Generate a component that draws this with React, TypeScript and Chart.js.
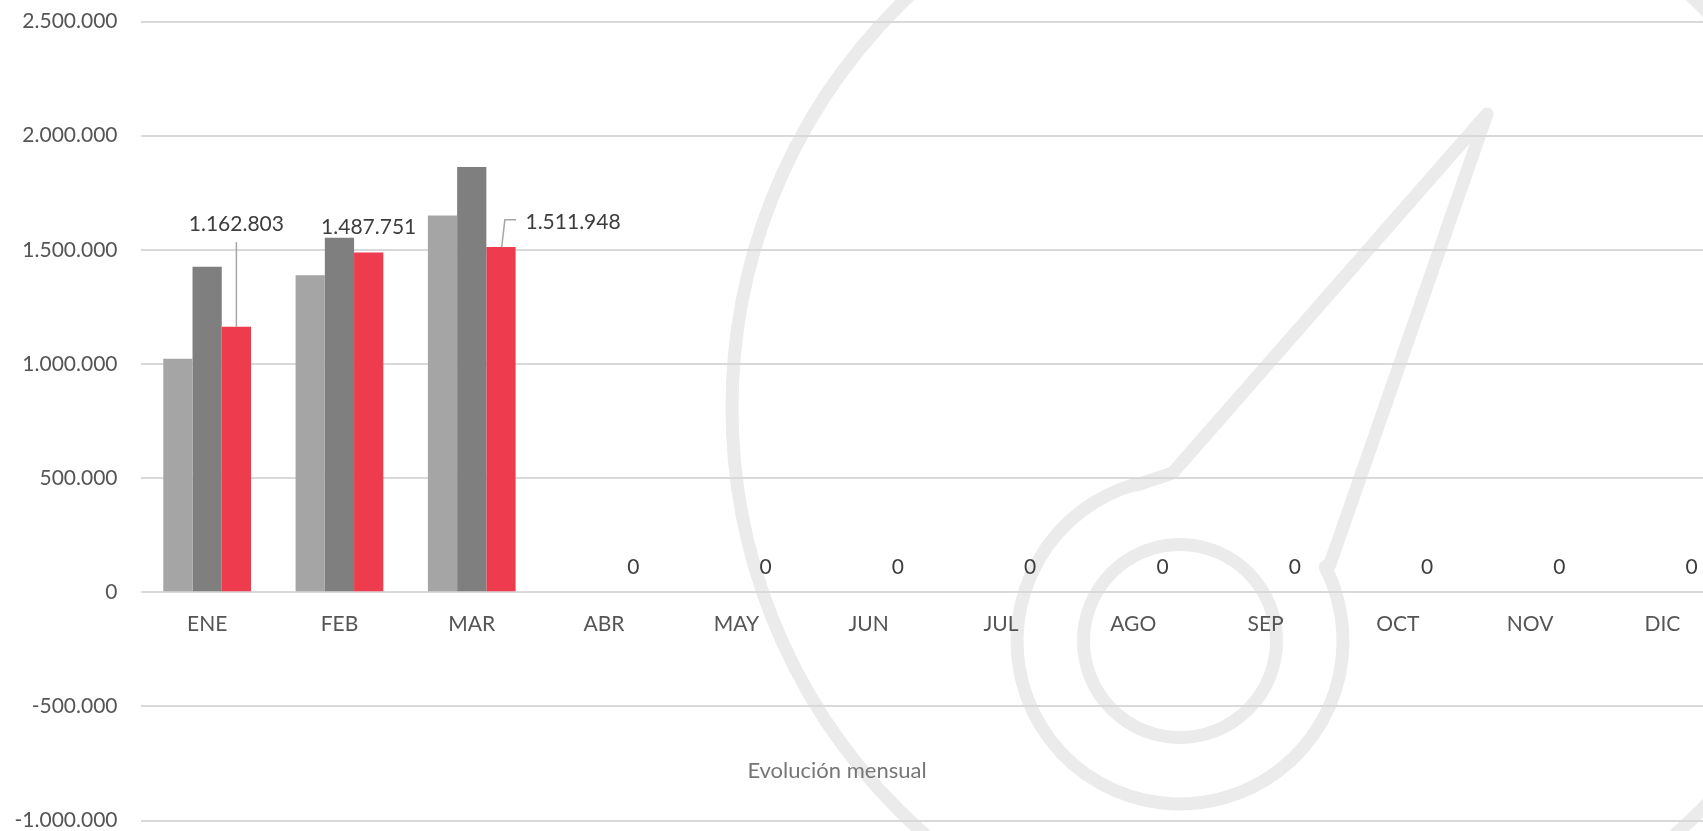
import React, { useEffect, useRef } from 'react';
import { Chart, registerables } from 'chart.js';

Chart.register(...registerables);

// ---- data ----
const months = ['ENE', 'FEB', 'MAR', 'ABR', 'MAY', 'JUN', 'JUL', 'AGO', 'SEP', 'OCT', 'NOV', 'DIC'];
const serieAnio1: (number | null)[] = [1023000, 1388000, 1650000, null, null, null, null, null, null, null, null, null];
const serieAnio2: (number | null)[] = [1426000, 1553000, 1863000, null, null, null, null, null, null, null, null, null];
const serieActual: number[] = [1162803, 1487751, 1511948, 0, 0, 0, 0, 0, 0, 0, 0, 0];
const yMin = -1000000;
const yMax = 2500000;
const yStep = 500000;
const axisTitle = 'Evolución mensual';

// ---- styles ----
const FONT = 'Lato, "Noto Sans", sans-serif';
const COLOR_A = '#a5a5a5';
const COLOR_B = '#7f7f7f';
const COLOR_C = '#ee3b4e';
const GRID = '#d9d9d9';
const TICK = '#555555';
const LABEL = '#3d3d3d';
const WATERMARK = '#ebebeb';
const CANVAS_W = 1745;
const CANVAS_H = 831;

// manual label displacement (pixels) for the highlighted series
const labelShift: Record<number, { dx: number; dy: number; leader: 'vertical' | 'elbow' }> = {
  0: { dx: 0, dy: -77, leader: 'vertical' },
  2: { dx: 24.5, dy: 0, leader: 'elbow' },
};

function fmt(n: number): string {
  const s = Math.abs(Math.round(n)).toString().replace(/\B(?=(\d{3})+(?!\d))/g, '.');
  return (n < 0 ? '-' : '') + s;
}

const watermarkPlugin = {
  id: 'watermark',
  beforeDraw(chart: any) {
    const ctx = chart.ctx;
    ctx.save();
    ctx.strokeStyle = WATERMARK;
    ctx.lineWidth = 13;
    ctx.lineJoin = 'round';
    ctx.lineCap = 'round';
    ctx.beginPath();
    ctx.arc(1300, 408, 568, 0, Math.PI * 2);
    ctx.stroke();
    ctx.beginPath();
    ctx.arc(1180, 641, 96.5, 0, Math.PI * 2);
    ctx.stroke();
    const d2r = Math.PI / 180;
    ctx.beginPath();
    ctx.moveTo(1330, 564);
    ctx.lineTo(1487, 114);
    ctx.lineTo(1172.6, 473);
    ctx.lineTo(1136.7, 485);
    ctx.arc(1180, 641, 163, 254.5 * d2r, -27 * d2r, true);
    ctx.closePath();
    ctx.stroke();
    ctx.restore();
  },
};

const labelsPlugin = {
  id: 'valueLabels',
  afterDatasetsDraw(chart: any) {
    const ctx = chart.ctx;
    const meta = chart.getDatasetMeta(2);
    ctx.save();
    ctx.font = `21px ${FONT}`;
    ctx.fillStyle = LABEL;
    ctx.textBaseline = 'middle';
    meta.data.forEach((bar: any, i: number) => {
      const v = serieActual[i];
      if (v === null || v === undefined) return;
      const text = fmt(v);
      const shift = labelShift[i];
      const baseY = bar.y - 25.3;
      if (!shift) {
        ctx.textAlign = 'center';
        ctx.fillText(text, bar.x, baseY);
        return;
      }
      const cy = baseY + shift.dy;
      ctx.strokeStyle = '#a6a6a6';
      ctx.lineWidth = 1.5;
      if (shift.leader === 'vertical') {
        ctx.textAlign = 'center';
        ctx.fillText(text, bar.x + shift.dx, cy);
        ctx.beginPath();
        ctx.moveTo(bar.x, bar.y);
        ctx.lineTo(bar.x, cy + 17.7);
        ctx.stroke();
      } else {
        const left = bar.x + shift.dx;
        ctx.textAlign = 'left';
        ctx.fillText(text, left, cy);
        ctx.beginPath();
        ctx.moveTo(bar.x + 0.7, bar.y);
        ctx.lineTo(left - 20.6, cy - 2);
        ctx.lineTo(left - 9.5, cy - 2);
        ctx.stroke();
      }
    });
    const ca = chart.chartArea;
    ctx.font = `22px ${FONT}`;
    ctx.fillStyle = '#767676';
    ctx.textAlign = 'center';
    ctx.textBaseline = 'middle';
    ctx.fillText(axisTitle, ca.left + 696, ca.bottom - 49.5);
    ctx.restore();
  },
};

export default function App() {
  const ref = useRef<HTMLCanvasElement | null>(null);

  useEffect(() => {
    if (!ref.current) return;
    const chart = new Chart(ref.current, {
      type: 'bar',
      data: {
        labels: months,
        datasets: [
          { label: 'Año -2', data: serieAnio1, backgroundColor: COLOR_A, borderWidth: 0 },
          { label: 'Año -1', data: serieAnio2, backgroundColor: COLOR_B, borderWidth: 0 },
          { label: 'Año actual', data: serieActual, backgroundColor: COLOR_C, borderWidth: 0 },
        ],
      },
      options: {
        responsive: false,
        animation: false,
        events: [],
        layout: { padding: { top: 21.5, bottom: 10.5, left: 0, right: CANVAS_W - 1728.6 } },
        datasets: { bar: { categoryPercentage: 0.663, barPercentage: 1 } },
        plugins: {
          legend: { display: false },
          tooltip: { enabled: false },
          title: { display: false },
        },
        scales: {
          x: {
            position: { y: 0 } as any,
            afterFit: (scale: any) => {
              scale.height = 0;
              scale.paddingTop = 0;
              scale.paddingBottom = 0;
            },
            grid: { display: false, drawTicks: false },
            border: { display: false },
            ticks: {
              color: TICK,
              font: { family: FONT, size: 21 },
              padding: 19,
              maxRotation: 0,
              autoSkip: false,
            },
          },
          y: {
            min: yMin,
            max: yMax,
            afterFit: (scale: any) => {
              scale.width = 141;
              scale.paddingTop = 0;
              scale.paddingBottom = 0;
            },
            grid: { color: GRID, lineWidth: 2, drawTicks: false },
            border: { display: false },
            ticks: {
              stepSize: yStep,
              color: TICK,
              font: { family: FONT, size: 21, lineHeight: 1 },
              padding: 23.5,
              callback: (v: any) => fmt(Number(v)),
            },
          },
        },
      },
      plugins: [watermarkPlugin, labelsPlugin],
    });
    return () => chart.destroy();
  }, []);

  return (
    <div
      style={{
        position: 'fixed',
        left: 0,
        top: 0,
        width: '100vw',
        height: '100vh',
        overflow: 'hidden',
        background: '#ffffff',
      }}
    >
      <canvas
        ref={ref}
        width={CANVAS_W}
        height={CANVAS_H}
        style={{ display: 'block', width: CANVAS_W + 'px', height: CANVAS_H + 'px' }}
      />
    </div>
  );
}
